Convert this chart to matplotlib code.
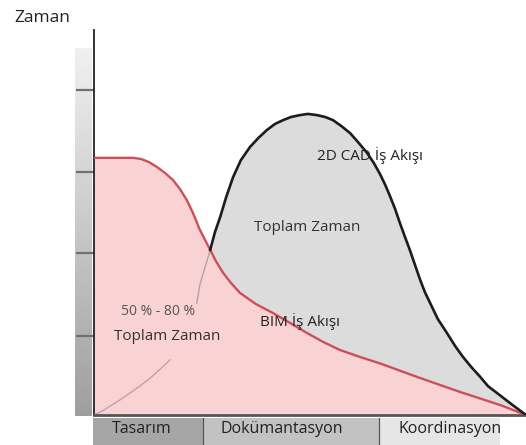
import numpy as np
import matplotlib
matplotlib.use("Agg")
import matplotlib.pyplot as plt

plt.rcParams['font.family'] = ['Open Sans', 'DejaVu Sans']

# BIM workflow curve (red)
bim_x = [0, 9.0, 10.9, 12.7, 14.6, 16.4, 18.3, 19.9, 21.5, 22.9, 24.5, 25.7, 26.9, 28.2, 29.9, 31.7,
         33.8, 37.5, 41.4, 45.4, 49.3, 53.0, 56.9, 61.5, 66.2, 75.5, 84.7, 94.0, 100]
bim_y = [66.8, 66.8, 66.5, 65.7, 64.4, 62.9, 61.0, 58.7, 55.8, 52.5, 48.1, 45.5, 42.9, 40.0, 36.9, 34.3,
         31.7, 28.8, 26.5, 23.9, 21.3, 19.0, 16.9, 15.1, 13.4, 9.6, 6.0, 2.6, 0]

# 2D CAD workflow curve (black)
cad_x = [26.9, 28.0, 29.2, 30.6, 32.2, 34.0, 36.1, 38.0, 40.0, 41.9, 43.8, 45.6, 47.7, 49.5, 51.6,
         53.5, 55.3, 57.2, 59.3, 61.1, 63.2, 64.8, 66.2, 67.4, 68.5, 69.7, 70.8, 72.0, 73.1, 74.3,
         75.5, 76.6, 77.8, 79.6, 81.7, 83.6, 85.4, 87.3, 89.4, 91.2, 93.3, 96.3, 100]
cad_y = [42.9, 47.5, 51.4, 56.6, 61.8, 66.2, 69.6, 71.9, 74.0, 75.6, 76.6, 77.4, 77.9, 78.2, 77.9,
         77.4, 76.6, 75.1, 73.2, 70.9, 68.1, 65.4, 62.6, 59.8, 56.9, 53.5, 49.9, 46.2, 42.9, 39.0,
         35.1, 31.9, 29.1, 24.9, 21.3, 17.9, 15.1, 12.5, 9.9, 7.5, 5.7, 3.1, 0]

# faint line from origin to the crossing point (partly hidden behind the text)
faint_low_x = [0, 1.9, 3.7, 6.0, 8.3, 10.6, 13.0, 15.3, 17.6]
faint_low_y = [0, 1.0, 2.3, 3.9, 5.7, 7.5, 9.6, 11.9, 14.3]
faint_up_x = [23.8, 24.5, 26.9]
faint_up_y = [29.1, 33.8, 42.9]

y_ticks = [20.5, 42.1, 63.1, 84.4]

phases = ["Tasarım", "Dokümantasyon", "Koordinasyon"]
phase_start = [0, 25.5, 66.0]
phase_width = [25.5, 40.5, 28.0]
phase_colors = ["#a6a6a6", "#c2c2c2", "#e6e6e6"]
phase_label_x = [11.3, 43.5, 82.4]

W, H = 526, 445
fig = plt.figure(figsize=(W / 100, H / 100), dpi=100, facecolor="white")

ax = fig.add_axes([94 / W, (H - 415) / H, (W - 94) / W, (415 - 30) / H])
ax.set_xlim(0, 100)
ax.set_ylim(0, 100)

# fills
ax.fill_between(bim_x, bim_y, 0, color="#f9d3d3", lw=0, zorder=1)
poly_x = list(cad_x) + [x for x in bim_x[::-1] if x >= cad_x[0]]
poly_y = list(cad_y) + [y for x, y in zip(bim_x[::-1], bim_y[::-1]) if x >= cad_x[0]]
ax.fill(poly_x, poly_y, color="#dcdcdc", lw=0, zorder=1)

ax.plot(faint_low_x, faint_low_y, color="#c49ea4", lw=1, zorder=2)
ax.plot(faint_up_x, faint_up_y, color="#b8a0a6", lw=1, zorder=2)
ax.plot(bim_x, bim_y, color="#cc4f5a", lw=1.7, zorder=3, solid_joinstyle="round")
ax.plot(cad_x, cad_y, color="#1c1c1c", lw=1.9, zorder=4, solid_joinstyle="round")

for s in ["top", "right"]:
    ax.spines[s].set_visible(False)
ax.spines["left"].set_color("#222222")
ax.spines["left"].set_linewidth(1.3)
ax.spines["bottom"].set_color("#555555")
ax.spines["bottom"].set_linewidth(2)
ax.set_xticks([])
ax.set_yticks(y_ticks)
ax.set_yticklabels([])
ax.tick_params(axis="y", direction="out", length=13, width=1.6, color="#707070")
ax.set_facecolor("none")

# labels inside the chart
ax.text(63.9, 67.5, "2D CAD İş Akışı", fontsize=11, color="#222222", ha="center", va="center", zorder=5)
ax.text(49.3, 48.8, "Toplam Zaman", fontsize=11, color="#333333", ha="center", va="center", zorder=5)
ax.text(47.7, 24.2, "BIM İş Akışı", fontsize=11, color="#222222", ha="center", va="center", zorder=5)
ax.text(14.8, 26.8, "50 % - 80 %", fontsize=10, color="#555555", ha="center", va="center", zorder=5)
ax.text(16.9, 20.3, "Toplam Zaman", fontsize=11, color="#333333", ha="center", va="center", zorder=5)

# gray gradient strip left of the y axis
gax = fig.add_axes([75 / W, (H - 416) / H, 17 / W, (416 - 48) / H])
grad = np.linspace(0.94, 0.62, 100).reshape(-1, 1)
gax.imshow(grad, aspect="auto", cmap="gray", vmin=0, vmax=1, extent=[0, 1, 0, 1])
gax.axis("off")
ax.set_zorder(2)

# phase bar under the x axis
pax = fig.add_axes([93 / W, 0, (W - 93) / W, (445 - 418) / H])
pax.set_xlim(0, 100)
pax.set_ylim(0, 1)
pax.barh(0.5, phase_width, left=phase_start, height=1, color=phase_colors, lw=0)
for xs in phase_start[1:]:
    pax.axvline(xs, color="#555555", lw=0.9)
for name, xl in zip(phases, phase_label_x):
    pax.text(xl, 0.6, name, fontsize=11.5, color="#222222", ha="center", va="center")
pax.axis("off")

fig.text(14 / W, 1 - 18 / H, "Zaman", fontsize=12.5, color="#222222", ha="left", va="center")

fig.savefig("out.png", dpi=100)
